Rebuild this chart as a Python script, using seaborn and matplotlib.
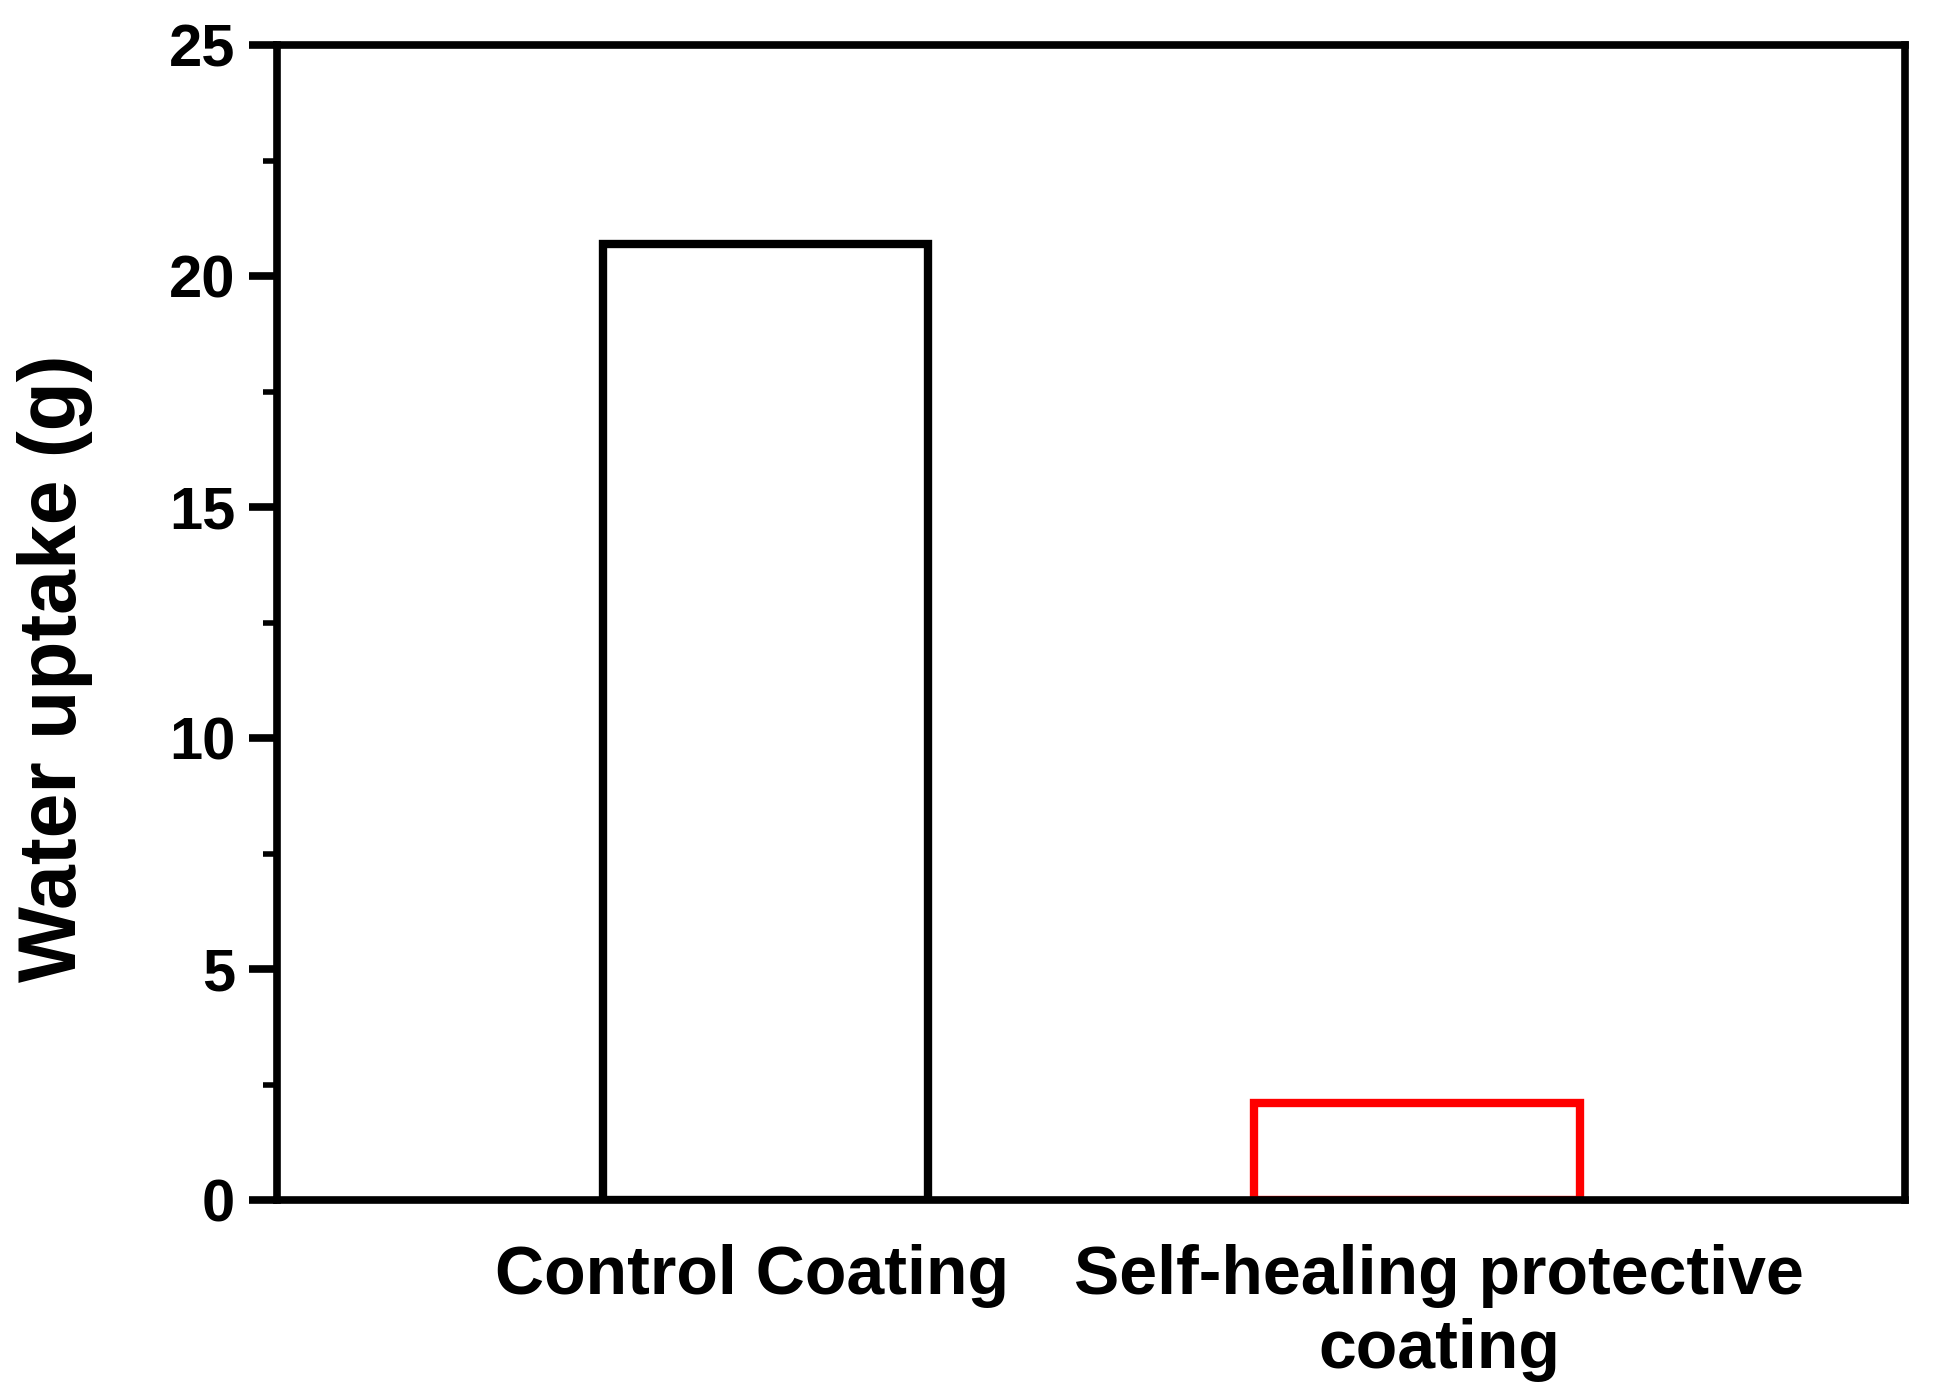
import matplotlib
matplotlib.use("Agg")
import matplotlib.pyplot as plt
import matplotlib.transforms as mtransforms
import seaborn as sns
from matplotlib.ticker import MultipleLocator

# valores
categorias = ["Control Coating", "Self-healing protective\ncoating"]
absorcao = [20.7, 2.1]
cores_borda = ["#000000", "#ff0000"]

sns.set_style("ticks")
plt.rcParams["font.family"] = ["Liberation Sans", "DejaVu Sans"]
plt.rcParams["font.weight"] = "bold"
plt.rcParams["text.color"] = "black"
plt.rcParams["axes.labelcolor"] = "black"
plt.rcParams["xtick.color"] = "black"
plt.rcParams["ytick.color"] = "black"

fig = plt.figure(figsize=(19.44, 13.98), dpi=100)
ax = fig.add_axes([0.1425, 0.1416, 0.8375, 0.8262])

sns.barplot(
    x=categorias,
    y=absorcao,
    hue=categorias,
    palette=cores_borda,
    fill=False,
    linewidth=6,
    width=0.5,
    legend=False,
    ax=ax,
)

ax.set_xlim(-0.75, 1.75)
ax.set_ylim(0, 25)
ax.yaxis.set_major_locator(MultipleLocator(5))
ax.yaxis.set_minor_locator(MultipleLocator(2.5))

for s in ax.spines.values():
    s.set_visible(True)
    s.set_linewidth(5.5)
    s.set_color("black")

ax.tick_params(axis="y", which="major", length=20, width=5.5, pad=10, labelsize=43, direction="out")
ax.tick_params(axis="y", which="minor", length=10, width=4, direction="out")
ax.tick_params(axis="x", length=0, pad=32, labelsize=49)

for lbl in ax.get_xticklabels() + ax.get_yticklabels():
    lbl.set_fontweight("bold")

# pequeno deslocamento dos rótulos como no original
desloc = [-10, 16]
for lbl, dx in zip(ax.get_xticklabels(), desloc):
    lbl.set_transform(lbl.get_transform() + mtransforms.ScaledTranslation(dx / 72, 0, fig.dpi_scale_trans))

ax.set_ylabel("Water uptake (g)", fontsize=58, fontweight="bold")
ax.yaxis.set_label_coords(-0.113, 0.46)
ax.set_xlabel("")

plt.savefig("out.png", dpi=100, facecolor="white")
